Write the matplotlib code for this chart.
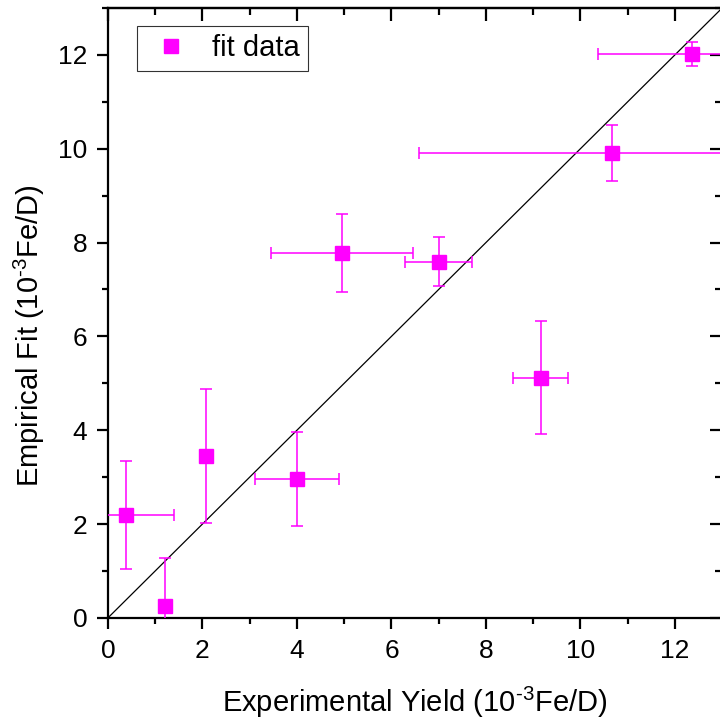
import matplotlib.pyplot as plt
from matplotlib.lines import Line2D
from matplotlib.ticker import MultipleLocator

plt.rcParams['font.family'] = ['Liberation Sans', 'DejaVu Sans']
plt.rcParams['mathtext.fontset'] = 'custom'
plt.rcParams['mathtext.rm'] = 'Liberation Sans'

# experimental yield vs empirical fit (10^-3 Fe/D)
exp_yield = [0.38, 1.20, 2.07, 4.00, 4.95, 7.00, 9.16, 10.67, 12.36]
fit_value = [2.20, 0.25, 3.45, 2.96, 7.78, 7.59, 5.12, 9.91, 12.02]
x_err = [1.02, 0.0, 0.0, 0.89, 1.50, 0.71, 0.58, 4.09, 1.99]
y_err = [1.15, 1.03, 1.42, 1.01, 0.83, 0.52, 1.20, 0.60, 0.25]
ref_line = [0, 13]

MAGENTA = '#ff00ff'

fig = plt.figure(figsize=(7.2, 7.26), dpi=100)
ax = fig.add_axes([0.15, 0.149, 0.853, 0.840])

ax.plot(ref_line, ref_line, color='black', lw=0.9, zorder=1)
ax.errorbar(exp_yield, fit_value, xerr=x_err, yerr=y_err, fmt='s',
            color=MAGENTA, ecolor=MAGENTA, elinewidth=1.1, capsize=4,
            capthick=1.1, markersize=9.5, zorder=3)

ax.set_xlim(0, 13)
ax.set_ylim(0, 13)
ax.xaxis.set_major_locator(MultipleLocator(2))
ax.xaxis.set_minor_locator(MultipleLocator(1))
ax.yaxis.set_major_locator(MultipleLocator(2))
ax.yaxis.set_minor_locator(MultipleLocator(1))

for s in ax.spines.values():
    s.set_linewidth(1.6)
ax.tick_params(which='both', direction='out', width=1.6, labelsize=19, pad=7,
               top=False, right=False)
ax.tick_params(which='major', length=8)
ax.tick_params(which='minor', length=4)

# inward ticks on top and right
top = ax.secondary_xaxis('top')
top.set_xticks(range(0, 14, 2))
top.xaxis.set_minor_locator(MultipleLocator(1))
top.tick_params(which='both', direction='in', width=1.6, labeltop=False)
top.tick_params(which='major', length=9)
top.tick_params(which='minor', length=5)
top.spines['top'].set_linewidth(1.6)
right = ax.secondary_yaxis('right')
right.set_yticks(range(0, 14, 2))
right.yaxis.set_minor_locator(MultipleLocator(1))
right.tick_params(which='both', direction='in', width=1.6, labelright=False)
right.tick_params(which='major', length=9)
right.tick_params(which='minor', length=5)

ax.set_xlabel(r'Experimental Yield (10$^{\text{-3}}$Fe/D)', fontsize=21, labelpad=16)
ax.set_ylabel(r'Empirical Fit (10$^{\text{-3}}$Fe/D)', fontsize=21)
ax.yaxis.set_label_coords(-0.100, 0.462)

handle = Line2D([], [], ls='none', marker='s', color=MAGENTA, markersize=10)
leg = ax.legend([handle], ['fit data'], loc='upper left',
                bbox_to_anchor=(0.047, 0.970), fontsize=21,
                frameon=True, fancybox=False, edgecolor='black',
                handletextpad=0.52, borderpad=0.28, handlelength=1.77,
                borderaxespad=0)
leg.get_frame().set_linewidth(0.8)

fig.savefig('out.png', dpi=100)
